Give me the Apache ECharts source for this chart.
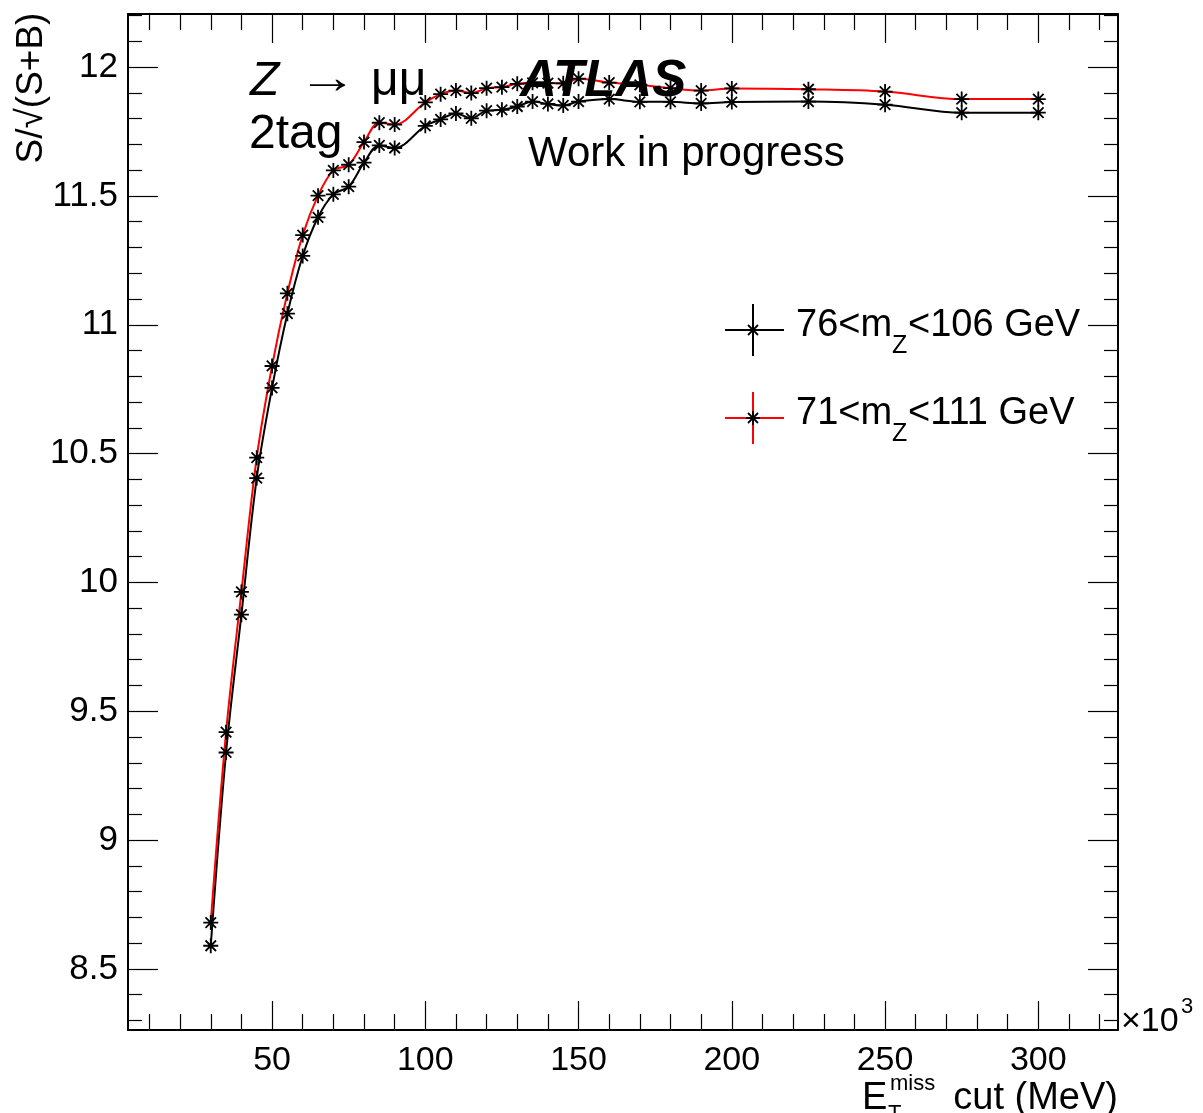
<!DOCTYPE html>
<html>
<head>
<meta charset="utf-8">
<script src="https://cdn.jsdelivr.net/npm/echarts@6/dist/echarts.min.js"></script>
<style>
  html, body { margin: 0; padding: 0; background: #fff; }
  #chart { width: 1203px; height: 1113px; }
</style>
</head>
<body>
<div id="chart"></div>
<script>
// E_T^miss cut values (x10^3 MeV)
const metCut = [30, 35, 40, 45, 50, 55, 60, 65, 70, 75, 80, 85, 90, 100, 105, 110, 115, 120, 125, 130,
  135, 140, 145, 150, 160, 170, 180, 190, 200, 225, 250, 275, 300];
// S/sqrt(S+B), 76<mZ<106 GeV
const sig76to106 = [8.59, 9.34, 9.875, 10.405, 10.755, 11.043, 11.267, 11.417, 11.506, 11.536, 11.629, 11.696, 11.686,
  11.772, 11.797, 11.820, 11.801, 11.831, 11.834, 11.847, 11.866, 11.857, 11.851, 11.866,
  11.876, 11.865, 11.865, 11.859, 11.864, 11.866, 11.854, 11.823, 11.823];
// S/sqrt(S+B), 71<mZ<111 GeV
const sig71to111 = [8.68, 9.419, 9.963, 10.484, 10.84, 11.122, 11.348, 11.501, 11.599, 11.621, 11.709, 11.784, 11.777,
  11.863, 11.895, 11.909, 11.899, 11.918, 11.922, 11.935, 11.939, 11.938, 11.937, 11.955,
  11.940, 11.931, 11.918, 11.909, 11.917, 11.914, 11.905, 11.876, 11.876];

const xMajorTicks = [50, 100, 150, 200, 250, 300];
const xMinorTicks = [10, 20, 30, 40, 60, 70, 80, 90, 110, 120, 130, 140, 160, 170, 180, 190,
  210, 220, 230, 240, 260, 270, 280, 290, 310, 320];
const yMajorTicks = [8.5, 9, 9.5, 10, 10.5, 11, 11.5, 12];
const yMinorTicks = [8.3, 8.4, 8.6, 8.7, 8.8, 8.9, 9.1, 9.2, 9.3, 9.4, 9.6, 9.7, 9.8, 9.9,
  10.1, 10.2, 10.3, 10.4, 10.6, 10.7, 10.8, 10.9, 11.1, 11.2, 11.3, 11.4,
  11.6, 11.7, 11.8, 11.9, 12.1, 12.2];

const FONT = '"Liberation Sans", "DejaVu Sans", sans-serif';
const xMin = 3, xMax = 326;
const yMin = 8.263, yMax = 12.206;

// ROOT-like asterisk marker
const STAR = 'path://M6,0L6,12M0,6L12,6M1.8,1.8L10.2,10.2M1.8,10.2L10.2,1.8';

function makeX(pos, major) {
  const ticks = major ? xMajorTicks : xMinorTicks;
  return {
    type: 'value', min: xMin, max: xMax, position: pos,
    axisLine: { show: major, lineStyle: { color: '#000', width: 2 } },
    axisTick: { show: true, inside: true, length: major ? 29 : 16, customValues: ticks,
      lineStyle: { color: '#000', width: 1.2 } },
    axisLabel: { show: major && pos === 'bottom', customValues: ticks, margin: 14,
      fontFamily: FONT, fontSize: 34, color: '#000' },
    splitLine: { show: false }
  };
}
function makeY(pos, major) {
  const ticks = major ? yMajorTicks : yMinorTicks;
  return {
    type: 'value', min: yMin, max: yMax, position: pos,
    axisLine: { show: major, lineStyle: { color: '#000', width: 2 } },
    axisTick: { show: true, inside: true, length: major ? 30 : 14, customValues: ticks,
      lineStyle: { color: '#000', width: 1.2 } },
    axisLabel: { show: major && pos === 'left', customValues: ticks, margin: 10,
      fontFamily: FONT, fontSize: 35, color: '#000' },
    splitLine: { show: false }
  };
}

function txt(x, y, text, size, extra) {
  return {
    type: 'text', x: x, y: y, z: 100,
    style: Object.assign({
      text: text, fontFamily: FONT, fontSize: size, fill: '#000',
      align: 'left', verticalAlign: 'middle', textAlign: 'left', textVerticalAlign: 'middle'
    }, extra || {})
  };
}

function seg(x1, y1, x2, y2, color, w) {
  return { type: 'line', z: 100, shape: { x1: x1, y1: y1, x2: x2, y2: y2 }, style: { stroke: color, lineWidth: w } };
}

function legendEntry(cy, color, main1, main2) {
  const cx = 753, r = 7, d = 5;
  return [
    seg(725, cy, 784, cy, color, 2),
    seg(cx, cy - 26, cx, cy + 26, color, 2),
    seg(cx - r, cy, cx + r, cy, '#000', 1.8),
    seg(cx, cy - r, cx, cy + r, '#000', 1.8),
    seg(cx - d, cy - d, cx + d, cy + d, '#000', 1.8),
    seg(cx - d, cy + d, cx + d, cy - d, '#000', 1.8),
    txt(796, cy - 4, main1, 38),
    txt(892, cy + 16, 'Z', 25),
    txt(908, cy - 4, main2, 38)
  ];
}

const chart = echarts.init(document.getElementById('chart'));
const option = {
  backgroundColor: '#fff',
  animation: false,
  grid: { left: 128, right: 85, top: 14, bottom: 83, containLabel: false },
  xAxis: [makeX('bottom', true), makeX('bottom', false), makeX('top', true), makeX('top', false)],
  yAxis: [makeY('left', true), makeY('left', false), makeY('right', true), makeY('right', false)],
  series: [
    {
      name: '76<mZ<106 GeV', type: 'line', xAxisIndex: 0, yAxisIndex: 0,
      data: metCut.map((x, i) => [x, sig76to106[i]]),
      smooth: 0.35, symbol: STAR, symbolSize: 15,
      lineStyle: { color: '#000', width: 2 },
      itemStyle: { color: '#000', borderColor: '#000', borderWidth: 1.8 },
      emphasis: { disabled: true }
    },
    {
      name: '71<mZ<111 GeV', type: 'line', xAxisIndex: 0, yAxisIndex: 0,
      data: metCut.map((x, i) => [x, sig71to111[i]]),
      smooth: 0.35, symbol: STAR, symbolSize: 15,
      lineStyle: { color: '#ff0000', width: 2 },
      itemStyle: { color: '#000', borderColor: '#000', borderWidth: 1.8 },
      emphasis: { disabled: true }
    }
  ],
  graphic: [
    // y axis title
    {
      type: 'text', x: 32, y: 88, rotation: Math.PI / 2, z: 100,
      style: { text: 'S/\u221A(S+B)', fontFamily: FONT, fontSize: 37, fill: '#000',
        align: 'center', verticalAlign: 'middle', textAlign: 'center', textVerticalAlign: 'middle' }
    },
    // x axis title
    txt(862, 1099, 'E', 38),
    txt(890, 1084, 'miss', 22),
    txt(888, 1114, 'T', 22),
    txt(1118, 1099, 'cut (MeV)', 38, { align: 'right', textAlign: 'right' }),
    txt(1121, 1022, '\u00D710', 34),
    txt(1181, 1007, '3', 22),
    // labels
    txt(250, 82, 'Z', 48, { fontStyle: 'italic' }),
    Object.assign(txt(298, 80, '\u2192', 46), { scaleX: 1.3 }),
    txt(371, 82, '\u03BC\u03BC', 48),
    txt(249, 135, '2tag', 48),
    txt(520, 82, 'ATLAS', 51, { fontStyle: 'italic', fontWeight: 'bold' }),
    txt(528, 154, 'Work in progress', 42)
  ].concat(legendEntry(330, '#000', '76<m', '<106 GeV'))
   .concat(legendEntry(418, '#ff0000', '71<m', '<111 GeV'))
};
chart.setOption(option);
</script>
</body>
</html>
